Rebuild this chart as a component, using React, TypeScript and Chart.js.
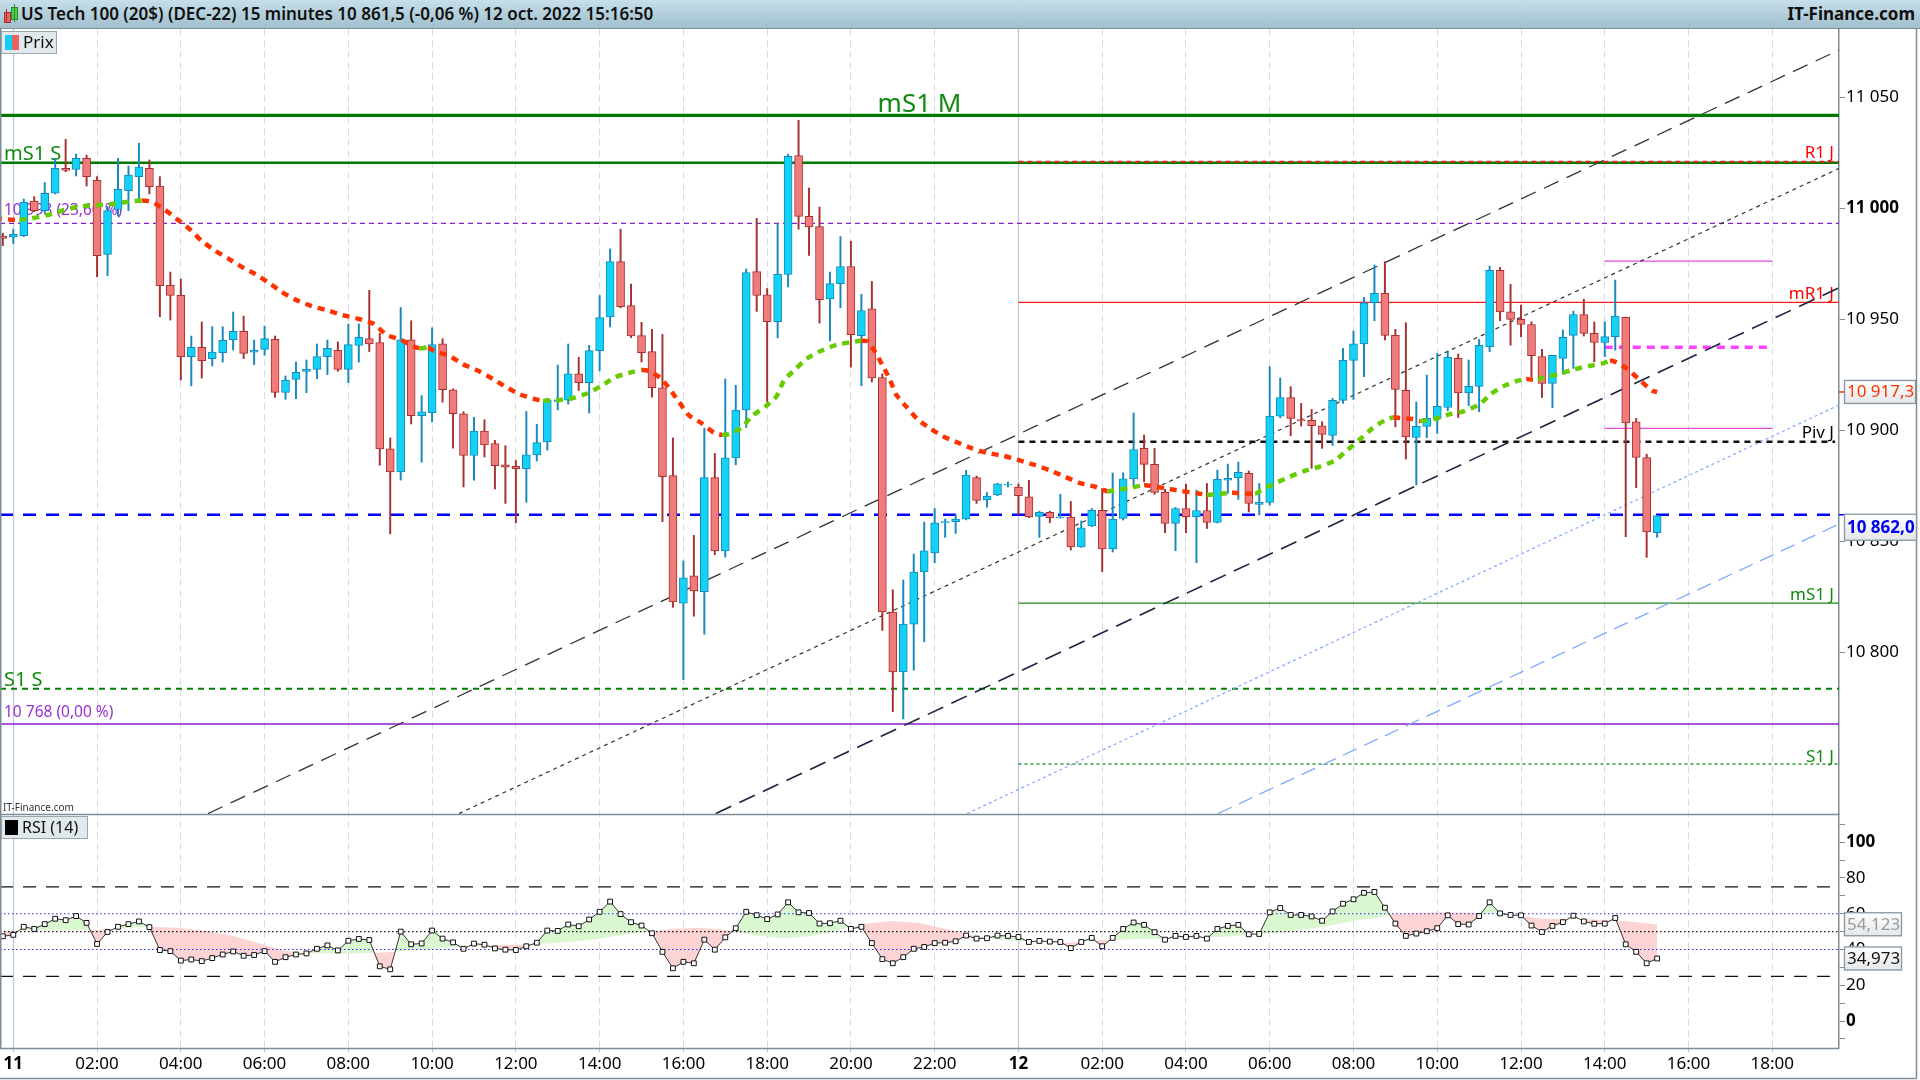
import React, { useEffect, useRef } from 'react';
import { Chart, registerables } from 'chart.js';
Chart.register(...registerables);

// ---------- DATA ----------
const TITLE = 'US Tech 100 (20$) (DEC-22) 15 minutes 10 861,5 (-0,06 %) 12 oct. 2022 15:16:50';
const SITE = 'IT-Finance.com';

// bar index 0 = 11 oct 00:00, one bar = 15 minutes
const FIRST_BAR = -1;
const OPEN = [
  10987.5, 10987.0, 10987.7, 11003.3, 10999.0, 11006.8, 11018.0, 11017.6, 11022.5, 11012.6, 10979.3,
  10999.5, 11008.0, 11014.3, 11018.0, 11010.1, 10965.3, 10960.8, 10933.2, 10937.4, 10932.3,
  10935.0, 10940.7, 10944.6, 10935.2, 10936.5, 10941.0, 10917.1, 10923.0, 10926.6, 10927.5,
  10933.2, 10936.1, 10927.5, 10938.3, 10941.3, 10939.6, 10891.7, 10881.3, 10940.8, 10906.6,
  10908.0, 10939.0, 10918.3, 10907.5, 10888.7, 10899.7, 10894.0, 10884.5, 10883.8, 10882.7,
  10889.0, 10894.8, 10913.1, 10913.6, 10925.5, 10921.5, 10935.9, 10951.1, 10976.0, 10956.2,
  10942.7, 10935.5, 10919.2, 10879.6, 10822.2, 10834.5, 10827.3, 10878.7, 10845.7, 10887.6,
  10909.2, 10971.5, 10961.1, 10949.0, 10970.3, 11023.8, 10996.4, 10991.8, 10959.2, 10966.1,
  10973.8, 10942.7, 10954.8, 10923.8, 10818.2, 10791.2, 10812.7, 10836.2, 10844.8, 10858.4,
  10858.9, 10860.1, 10878.7, 10868.7, 10871.0, 10875.4, 10874.5, 10870.1, 10861.2, 10863.1,
  10860.6, 10861.0, 10847.5, 10857.0, 10864.0, 10846.6, 10860.3, 10878.2, 10891.9, 10884.7,
  10872.1, 10858.1, 10864.8, 10861.1, 10863.9, 10858.5, 10877.6, 10878.7, 10880.6, 10866.7,
  10867.6, 10906.4, 10914.8, 10904.9, 10904.5, 10902.1, 10897.7, 10913.5, 10931.5, 10939.0,
  10957.5, 10961.7, 10942.8, 10918.0, 10896.8, 10901.8, 10905.4, 10910.3, 10932.4, 10916.9,
  10919.8, 10937.7, 10972.1, 10953.4, 10950.0, 10947.7, 10933.2, 10921.2, 10932.4, 10942.8,
  10952.2, 10943.7, 10939.6, 10942.2, 10950.9, 10903.9, 10887.8, 10853.9,
];
const HIGH = [
  10988.8, 10990.5, 11004.2, 11005.3, 11011.6, 11022.5, 11031.1, 11024.5, 11024.0, 11014.3, 11000.8,
  11022.5, 11019.1, 11029.3, 11021.8, 11014.3, 10971.3, 10968.2, 10942.5, 10948.8, 10946.7,
  10946.7, 10953.3, 10951.5, 10940.7, 10947.0, 10942.5, 10924.5, 10930.8, 10931.7, 10938.9,
  10940.7, 10939.8, 10947.9, 10947.9, 10963.1, 10943.8, 10896.6, 10955.3, 10949.4, 10915.7,
  10946.2, 10941.3, 10918.7, 10908.4, 10905.9, 10904.8, 10895.5, 10893.1, 10886.4, 10908.5,
  10902.7, 10914.5, 10929.4, 10938.9, 10932.9, 10938.3, 10960.8, 10981.7, 10990.6, 10965.9,
  10948.7, 10945.5, 10943.2, 10896.6, 10841.2, 10852.7, 10901.0, 10889.6, 10923.2, 10920.3,
  10972.7, 10995.5, 10963.9, 10993.2, 11024.4, 11039.7, 11009.2, 11000.6, 10971.3, 10987.3,
  10985.2, 10961.3, 10967.1, 10925.5, 10828.2, 10832.6, 10844.3, 10858.7, 10864.8, 10860.1,
  10862.2, 10882.0, 10879.4, 10872.0, 10876.2, 10876.8, 10875.9, 10877.5, 10863.6, 10863.6,
  10871.2, 10868.0, 10859.2, 10864.8, 10873.8, 10880.8, 10880.9, 10907.8, 10897.9, 10891.9,
  10873.4, 10865.3, 10875.8, 10873.1, 10876.1, 10882.1, 10884.8, 10885.7, 10881.7, 10876.1,
  10928.7, 10923.6, 10919.7, 10912.2, 10909.4, 10903.9, 10914.4, 10936.9, 10944.7, 10959.9,
  10974.5, 10976.0, 10945.5, 10948.5, 10912.8, 10924.9, 10934.7, 10935.7, 10934.4, 10931.7,
  10941.0, 10974.0, 10973.4, 10965.8, 10956.4, 10948.9, 10936.5, 10933.8, 10945.2, 10953.7,
  10959.1, 10948.8, 10948.9, 10967.7, 10951.0, 10905.4, 10889.3, 10861.7,
];
const LOW = [
  10983.2, 10984.2, 10987.3, 10998.5, 10997.8, 11006.5, 11016.5, 11014.6, 11010.1, 10969.2, 10969.7,
  10996.5, 10999.0, 11004.1, 11006.5, 10951.2, 10949.7, 10922.7, 10920.0, 10923.6, 10929.0,
  10930.8, 10936.2, 10932.3, 10929.6, 10933.8, 10914.9, 10914.0, 10914.3, 10917.0, 10923.3,
  10925.1, 10926.6, 10921.5, 10930.8, 10935.5, 10884.3, 10853.4, 10877.6, 10902.9, 10885.7,
  10903.8, 10912.7, 10892.0, 10874.5, 10877.6, 10888.0, 10873.6, 10867.1, 10858.3, 10867.6,
  10886.2, 10891.1, 10909.2, 10911.8, 10918.0, 10907.8, 10926.8, 10946.6, 10955.2, 10941.8,
  10930.8, 10915.0, 10858.9, 10820.3, 10787.7, 10816.3, 10808.2, 10844.0, 10842.9, 10884.5,
  10901.3, 10953.6, 10912.7, 10941.7, 10964.6, 10990.6, 10978.8, 10948.3, 10940.3, 10955.2,
  10928.5, 10920.1, 10921.8, 10809.9, 10773.3, 10770.0, 10792.0, 10804.8, 10840.4, 10851.8,
  10853.6, 10859.7, 10867.1, 10865.4, 10870.6, 10874.5, 10861.9, 10860.6, 10851.8, 10858.4,
  10860.4, 10846.1, 10847.3, 10856.6, 10836.4, 10845.2, 10859.6, 10874.3, 10876.9, 10871.2,
  10853.9, 10845.8, 10853.9, 10840.4, 10855.8, 10858.3, 10871.6, 10868.9, 10863.3, 10861.9,
  10866.4, 10905.7, 10897.6, 10901.9, 10882.9, 10891.9, 10893.2, 10912.2, 10913.9, 10924.2,
  10949.4, 10940.7, 10901.6, 10887.1, 10875.4, 10896.7, 10898.6, 10908.8, 10905.8, 10911.1,
  10908.4, 10935.4, 10949.4, 10938.4, 10942.2, 10924.2, 10914.8, 10910.2, 10925.4, 10927.9,
  10942.5, 10930.9, 10933.2, 10936.2, 10852.1, 10874.2, 10842.8, 10851.8,
];
const CLOSE = [
  10986.5, 10988.3, 11002.7, 10999.0, 11006.8, 11018.0, 11017.1, 11022.5, 11014.3, 10978.7, 10999.0,
  11008.6, 11015.0, 11018.6, 11009.8, 10965.2, 10960.8, 10933.2, 10937.4, 10931.4, 10935.3,
  10940.6, 10944.6, 10934.7, 10936.1, 10941.3, 10917.1, 10922.7, 10926.1, 10927.5, 10933.2,
  10937.0, 10927.5, 10938.7, 10941.9, 10939.0, 10891.7, 10881.3, 10940.8, 10906.6, 10908.4,
  10938.7, 10918.3, 10907.5, 10888.7, 10899.7, 10893.4, 10884.1, 10883.4, 10882.7, 10889.0,
  10894.5, 10913.8, 10913.8, 10925.5, 10921.5, 10935.9, 10950.8, 10976.0, 10955.7, 10942.5,
  10935.0, 10919.2, 10879.2, 10822.7, 10833.6, 10827.7, 10878.7, 10845.7, 10887.6, 10909.2,
  10971.1, 10960.8, 10949.0, 10970.3, 11023.4, 10996.4, 10991.7, 10958.9, 10966.1, 10973.8,
  10943.1, 10954.0, 10923.6, 10818.2, 10791.2, 10812.7, 10836.2, 10845.7, 10858.4, 10858.9,
  10860.1, 10879.9, 10868.4, 10870.4, 10875.9, 10875.7, 10870.6, 10861.0, 10863.1, 10860.6,
  10861.0, 10847.5, 10856.1, 10864.0, 10846.6, 10860.1, 10878.2, 10891.4, 10884.7, 10872.1,
  10858.1, 10864.8, 10861.1, 10863.9, 10858.5, 10877.9, 10878.4, 10881.1, 10867.1, 10867.6,
  10906.4, 10914.8, 10905.4, 10904.3, 10902.1, 10898.2, 10913.5, 10931.5, 10939.0, 10957.5,
  10961.7, 10942.8, 10918.5, 10897.1, 10901.8, 10905.4, 10910.8, 10932.9, 10916.9, 10919.8,
  10938.3, 10972.1, 10953.4, 10950.0, 10947.7, 10933.6, 10921.2, 10933.8, 10941.9, 10952.2,
  10943.7, 10939.6, 10942.3, 10951.5, 10903.4, 10887.8, 10854.3, 10861.6,
];

// moving average (bar position, price)
const MA_X = [
  -1.75, -0.5, 0.6, 1.75, 3.3, 4.9, 6.2, 7.8, 9.4, 11.0, 12.3, 13.2, 14.5, 15.8, 17.0, 18.0, 19.3, 20.5,
  21.8, 23.1, 24.4, 25.6, 26.9, 28.5, 30.1, 31.4, 33.0, 34.4, 35.7, 37.0, 38.2, 38.8, 39.6, 40.2, 41.7,
  42.9, 44.5, 45.8, 47.1, 48.4, 49.9, 50.6, 51.9, 53.4, 54.8, 56.2, 57.5, 58.8, 60.0, 60.7, 61.8, 62.6,
  63.6, 64.5, 65.7, 67.0, 67.7, 68.4, 69.5, 70.6, 71.9, 72.9, 73.6, 74.7, 75.8, 77.0, 78.6, 80.0, 81.0,
  81.6, 82.3, 83.0, 83.7, 84.3, 85.3, 86.4, 87.6, 88.8, 90.3, 91.5, 93.0, 94.6, 96.2, 97.6, 99.0, 100.5,
  101.9, 103.4, 104.5, 105.0, 106.7, 108.0, 108.6, 110.0, 111.4, 113.2, 114.0, 114.8, 115.6, 116.4,
  117.0, 118.6, 119.2, 120.5, 121.9, 123.3, 124.7, 126.2, 127.4, 128.6, 129.8, 131.0, 131.8, 132.4,
  133.6, 134.4, 134.8, 136.0, 137.2, 138.6, 140.1, 141.1, 142.3, 143.7, 144.5, 145.0, 145.6, 146.0,
  147.6, 149.1, 150.5, 151.8, 152.5, 152.9, 154.1, 155.4, 156.5, 157.0,
];
const MA_Y = [
  10995.6, 10995.0, 10994.8, 10995.5, 10997.0, 10999.3, 11000.8, 11001.4, 11002.0, 11003.0, 11003.6, 11003.0,
  10999.3, 10994.5, 10990.0, 10985.3, 10980.9, 10977.5, 10973.7, 10970.4, 10966.5, 10962.5, 10959.0, 10956.0,
  10953.9, 10952.0, 10950.2, 10948.0, 10942.9, 10940.8, 10937.8, 10937.0, 10937.3, 10935.8, 10933.4, 10929.9,
  10926.6, 10923.2, 10919.4, 10916.2, 10914.0, 10913.4, 10913.6, 10914.5, 10916.6, 10920.1, 10924.0, 10925.9,
  10927.2, 10926.8, 10923.6, 10919.2, 10912.7, 10906.9, 10903.4, 10898.7, 10898.0, 10898.4, 10901.0, 10906.6,
  10911.0, 10915.4, 10922.4, 10927.6, 10932.4, 10935.5, 10938.5, 10939.7, 10940.4, 10940.0, 10935.5, 10929.4,
  10923.2, 10916.2, 10910.6, 10904.8, 10900.8, 10897.3, 10894.3, 10892.0, 10889.9, 10888.5, 10886.4, 10884.3,
  10882.0, 10879.0, 10876.2, 10874.5, 10872.6, 10872.9, 10874.2, 10875.3, 10875.1, 10873.9, 10872.8, 10871.6,
  10871.0, 10871.2, 10871.6, 10871.9, 10871.8, 10871.5, 10873.1, 10876.1, 10879.1, 10881.7, 10883.6, 10886.3,
  10891.1, 10895.9, 10900.9, 10904.6, 10905.8, 10905.6, 10905.1, 10904.2, 10904.4, 10905.4, 10907.3, 10908.7,
  10911.9, 10916.3, 10919.9, 10922.4, 10923.1, 10922.9, 10922.8, 10923.6, 10925.4, 10927.5, 10929.0, 10930.2,
  10931.3, 10931.1, 10927.9, 10922.4, 10917.9, 10917.3,
];
const MA_LAST = 10917.3;
const LAST_PRICE = 10862.0;

// RSI (14), one value per bar from FIRST_BAR
const RSI = [
  47.4, 48.2, 52.7, 51.5, 54.2, 57.2, 56.4, 58.7, 54.9, 43.1, 49.8,
  52.7, 54.2, 55.7, 52.5, 39.7, 39.1, 33.8, 34.4, 33.5, 35.2,
  37.2, 38.9, 36.5, 36.9, 39.1, 33.1, 35.7, 37.2, 37.8, 40.4,
  42.3, 39.5, 44.9, 45.9, 45.3, 30.6, 28.9, 50.0, 42.9, 43.4,
  50.6, 46.1, 44.0, 40.4, 43.3, 42.7, 40.6, 39.9, 39.7, 41.8,
  43.8, 50.6, 50.4, 54.0, 53.0, 56.8, 61.1, 66.8, 59.8, 55.3,
  53.4, 49.1, 38.7, 29.5, 33.1, 32.3, 45.5, 39.9, 46.8, 51.9,
  61.1, 59.2, 57.0, 59.6, 66.4, 60.8, 60.4, 54.5, 54.7, 56.1,
  51.5, 52.7, 43.6, 34.6, 32.3, 35.7, 40.4, 41.4, 43.6, 43.8,
  44.6, 47.8, 46.1, 46.3, 47.8, 47.6, 47.0, 44.2, 44.8, 44.4,
  44.2, 40.8, 44.2, 46.5, 41.8, 46.5, 51.5, 55.1, 53.8, 49.7,
  45.5, 47.6, 47.0, 47.6, 46.1, 51.5, 53.2, 53.8, 48.5, 48.7,
  60.8, 63.2, 59.3, 59.3, 58.5, 56.1, 61.3, 65.6, 68.1, 71.7,
  72.2, 63.4, 54.5, 47.6, 48.9, 50.2, 51.9, 59.1, 54.2, 54.0,
  58.7, 66.4, 60.2, 59.3, 59.1, 53.4, 49.8, 53.2, 55.3, 58.9,
  55.7, 54.4, 54.5, 57.6, 42.9, 38.7, 32.3, 34.97,
];
// RSI signal line
const SIG_X = [
  -1.7, 4, 8, 13, 15.4, 18, 20.6, 23.2, 25.8, 27.9, 32, 35.6, 38.8, 42.4, 46, 50.2, 52.8, 55.4, 58, 60.5,
  63.1, 65.7, 68.3, 70.9, 73.5, 76.1, 78.5, 80, 81.3, 83.9, 86.5, 89.1, 91.7, 94.3, 96.9, 100.5, 104.2,
  107.8, 112, 115.1, 118.2, 120.3, 122.9, 125.4, 128, 130.6, 131.7, 135.8, 138.4, 141, 144.1, 146.2,
  148.8, 151.4, 154, 157,
];
const SIG_Y = [
  50.4, 50.8, 51.0, 52.7, 52.3, 50.8, 48.3, 44.0, 39.5, 38.0, 37.6, 38.4, 39.9, 41.4, 42.5, 42.9, 44.0,
  45.5, 48.0, 50.0, 51.7, 52.1, 50.8, 47.8, 46.3, 47.4, 50.5, 52.5, 54.4, 55.9, 54.9, 51.5, 47.8, 45.5,
  44.2, 43.6, 45.5, 45.9, 46.5, 47.0, 48.1, 49.3, 50.8, 53.0, 55.9, 58.1, 60.0, 60.9, 60.9, 60.2, 58.7,
  57.2, 57.2, 56.8, 55.9, 54.1,
];
const RSI_LAST = 34.973;
const SIG_LAST = 54.123;
const RSI_LEVELS = [75, 60, 50, 40, 25];

// axes
const X_MIN = -1.27;
const X_MAX = 174.37;
const PRICE_MIN = 10727.2;
const PRICE_MAX = 11080.8;
const RSI_MIN = -15.1;
const RSI_MAX = 115.8;
const PRICE_TICKS = [10800, 10850, 10900, 10950, 11000, 11050];
const PRICE_BOLD = [11000];
const RSI_TICKS = [-10, 0, 10, 20, 30, 40, 50, 60, 70, 80, 90, 100, 110];
const RSI_LABELLED = [0, 20, 40, 60, 80, 100];
const RSI_BOLD = [0, 100];
const TIME_TICKS = [0, 8, 16, 24, 32, 40, 48, 56, 64, 72, 80, 88, 96, 104, 112, 120, 128, 136, 144, 152, 160, 168];
const TIME_LABELS = ['11', '02:00', '04:00', '06:00', '08:00', '10:00', '12:00', '14:00', '16:00', '18:00', '20:00', '22:00',
  '12', '02:00', '04:00', '06:00', '08:00', '10:00', '12:00', '14:00', '16:00', '18:00'];
const DAY_STARTS = [0, 96];

// horizontal levels
const LEVEL_KEYS = ['mS1M', 'R1J', 'mS1S', 'fib236', 'mR1J', 'pinkTop', 'pinkDash', 'PivJ', 'pinkLow', 'last', 'mS1J', 'S1S', 'fib0', 'S1J'];
const LEVEL_LABELS = ['mS1 M', 'R1 J', 'mS1 S', '10 993 (23,60 %)', 'mR1 J', '', '', 'Piv J', '', '', 'mS1 J', 'S1 S', '10 768 (0,00 %)', 'S1 J'];
const LEVEL_VALUES = [11041.9, 11021.0, 11020.5, 10993.2, 10957.7, 10976.2, 10937.4, 10894.9, 10900.9, 10862.0, 10822.2, 10783.6, 10767.7, 10749.7];
const LEVEL_FROM = [X_MIN, 96, X_MIN, X_MIN, 96, 152, 152, 96, 152, X_MIN, 96, X_MIN, X_MIN, 96];
const LEVEL_TO = [X_MAX, X_MAX, X_MAX, X_MAX, X_MAX, 168, 167.5, 174, 168, X_MAX, X_MAX, X_MAX, X_MAX, X_MAX];

// regression channel lines
const TREND_X0 = [18.6, 42.57, 67.1, 91.09, 115.06];
const TREND_Y0 = [10727.4, 10727.4, 10727.4, 10727.4, 10727.4];
const TREND_X1 = [174.37, 174.37, 174.37, 174.37, 174.37];
const TREND_Y1 = [11071.3, 11018.0, 10964.2, 10911.4, 10857.8];

// ---------- STYLES ----------
const FONT = 'Noto Sans';
const LEVEL_STYLE: any = {
  mS1M: { color: '#007a00', width: 3.2, dash: [] },
  R1J: { color: '#e02020', width: 1.8, dash: [5, 4] },
  mS1S: { color: '#007a00', width: 2.5, dash: [] },
  fib236: { color: '#8a1ecf', width: 1.3, dash: [5, 4] },
  mR1J: { color: '#ff1a1a', width: 1.3, dash: [] },
  pinkTop: { color: '#e34be3', width: 1.3, dash: [] },
  pinkDash: { color: '#ff40ff', width: 3.5, dash: [8, 6] },
  PivJ: { color: '#111111', width: 2.5, dash: [6, 5] },
  pinkLow: { color: '#e34be3', width: 1.3, dash: [] },
  last: { color: '#0000ff', width: 2.5, dash: [13, 10] },
  mS1J: { color: '#1f8a1f', width: 1.3, dash: [] },
  S1S: { color: '#008000', width: 2, dash: [6, 5] },
  fib0: { color: '#8a1ecf', width: 1.5, dash: [] },
  S1J: { color: '#008000', width: 1.2, dash: [3, 3] },
};
const LABEL_STYLE: any = {
  mS1M: { align: 'center', size: 26, color: '#108a10', gap: 3 },
  R1J: { align: 'right', size: 17, color: '#ff0000', gap: 3.5 },
  mS1S: { align: 'left', size: 20, color: '#108a10', gap: 3 },
  fib236: { align: 'left', size: 15.5, color: '#9a30d0', gap: 8 },
  mR1J: { align: 'right', size: 17, color: '#ff0000', gap: 3 },
  PivJ: { align: 'right', size: 17, color: '#000000', gap: 3.5 },
  mS1J: { align: 'right', size: 17, color: '#108a10', gap: 3 },
  S1S: { align: 'left', size: 20, color: '#108a10', gap: 3 },
  fib0: { align: 'left', size: 15.5, color: '#9a30d0', gap: 7 },
  S1J: { align: 'right', size: 17, color: '#108a10', gap: 2.5 },
};
const TREND_STYLE = [
  { color: '#333333', width: 1.3, dash: [16, 9] },
  { color: '#333333', width: 1.2, dash: [4, 4] },
  { color: '#1c2340', width: 1.6, dash: [17, 9] },
  { color: '#7fa8ff', width: 1.2, dash: [3, 3] },
  { color: '#7fa8ff', width: 1.3, dash: [15, 8] },
];
const RSI_LEVEL_STYLE: any = {
  75: { color: '#111111', width: 1.3, dash: [13, 10] },
  60: { color: '#2a2aff', width: 1.2, dash: [1.5, 2.5] },
  50: { color: '#111111', width: 1.2, dash: [1.5, 2.5] },
  40: { color: '#2a2aff', width: 1.2, dash: [1.5, 2.5] },
  25: { color: '#111111', width: 1.3, dash: [13, 10] },
};
const UP_FILL = '#14d2f6';
const UP_LINE = '#1589bd';
const DOWN_FILL = '#ef7b7b';
const DOWN_LINE = '#a5302f';
const AXIS_COLOR = '#7d8d98';

function fmtFr(v: number, d: number) {
  const s = v.toFixed(d);
  const [i, f] = s.split('.');
  const is = i.replace(/\B(?=(\d{3})+(?!\d))/g, ' ');
  return f ? is + ',' + f : is;
}

function drawBox(ctx: any, x: number, y: number, w: number, h: number, text: string, color: string, bold: boolean) {
  const g = ctx.createLinearGradient(0, y, 0, y + h);
  g.addColorStop(0, '#ffffff');
  g.addColorStop(1, '#e4e6e8');
  ctx.fillStyle = g;
  ctx.fillRect(x, y, w, h);
  ctx.strokeStyle = '#8796a0';
  ctx.lineWidth = 1.3;
  ctx.setLineDash([]);
  ctx.strokeRect(x + 0.5, y + 0.5, w - 1, h - 1);
  ctx.fillStyle = color;
  ctx.font = `${bold ? 'bold ' : ''}17px "${FONT}"`;
  ctx.textAlign = 'left';
  ctx.textBaseline = 'middle';
  ctx.fillText(text, x + 3, y + h / 2 + 0.5);
}

const overlayPlugin = {
  id: 'overlay',
  beforeDatasetsDraw(chart: any) {
    const { ctx, chartArea: a, scales } = chart;
    const x = scales.x;
    const y = scales.y;
    ctx.save();
    // day separators
    ctx.strokeStyle = '#c3c8d6';
    ctx.lineWidth = 1.3;
    DAY_STARTS.forEach((d) => {
      const px = Math.round(x.getPixelForValue(d)) + 0.5;
      ctx.beginPath();
      ctx.moveTo(px, a.top);
      ctx.lineTo(px, a.bottom + 3);
      ctx.stroke();
    });
    // level labels
    LEVEL_KEYS.forEach((k, i) => {
      const text = LEVEL_LABELS[i];
      const st = LABEL_STYLE[k];
      if (!text || !st) return;
      const py = y.getPixelForValue(LEVEL_VALUES[i]);
      ctx.font = `${st.size}px "${FONT}"`;
      ctx.fillStyle = st.color;
      ctx.textBaseline = 'alphabetic';
      let px = a.left + 4;
      if (st.align === 'center') { ctx.textAlign = 'center'; px = (a.left + x.right) / 2; }
      else if (st.align === 'right') { ctx.textAlign = 'right'; px = x.right - 5; }
      else { ctx.textAlign = 'left'; }
      ctx.fillText(text, px, py - st.gap);
    });
    ctx.restore();
  },
  afterDraw(chart: any) {
    const { ctx, chartArea: a, scales, width, height } = chart;
    const y = scales.y;
    const yr = scales.yRsi;
    ctx.save();
    ctx.setLineDash([]);
    // pane separator & frame
    ctx.strokeStyle = AXIS_COLOR;
    ctx.lineWidth = 1.5;
    ctx.beginPath();
    ctx.moveTo(0, yr.top + 0.5); ctx.lineTo(a.right, yr.top + 0.5);
    ctx.moveTo(0, a.bottom + 0.5); ctx.lineTo(a.right, a.bottom + 0.5);
    ctx.moveTo(0.75, a.top); ctx.lineTo(0.75, a.bottom);
    ctx.moveTo(width - 3.5, 0); ctx.lineTo(width - 3.5, height - 1.5);
    ctx.moveTo(0, height - 1.5); ctx.lineTo(width - 3.5, height - 1.5);
    ctx.stroke();

    // value boxes on the axes
    const bx = a.right + 5;
    const maY = y.getPixelForValue(MA_LAST);
    const lastY = y.getPixelForValue(LAST_PRICE);
    ctx.lineWidth = 1.5;
    ctx.strokeStyle = '#ff3300';
    ctx.beginPath(); ctx.moveTo(a.right, maY); ctx.lineTo(a.right + 6, maY); ctx.stroke();
    ctx.strokeStyle = '#0000ff';
    ctx.beginPath(); ctx.moveTo(a.right, lastY); ctx.lineTo(a.right + 6, lastY); ctx.stroke();
    drawBox(ctx, bx, maY - 12, 72, 24, fmtFr(MA_LAST, 1), '#ff3300', false);
    drawBox(ctx, bx, lastY - 1, 73, 27, fmtFr(LAST_PRICE, 1), '#0000ee', true);
    drawBox(ctx, bx, yr.getPixelForValue(SIG_LAST) - 12, 58, 24, fmtFr(SIG_LAST, 3), '#9a9a9a', false);
    drawBox(ctx, bx, yr.getPixelForValue(RSI_LAST) - 12, 58, 24, fmtFr(RSI_LAST, 3), '#111111', false);

    // legend "Prix"
    ctx.fillStyle = '#e2e9ed';
    ctx.fillRect(1, a.top + 2, 56, 23);
    ctx.strokeStyle = '#9aa6ae';
    ctx.lineWidth = 1;
    ctx.strokeRect(1.5, a.top + 2.5, 55, 22);
    ctx.fillStyle = '#12d0f5';
    ctx.fillRect(5, a.top + 6, 7, 15);
    ctx.fillStyle = '#e86464';
    ctx.fillRect(12, a.top + 6, 7, 15);
    ctx.fillStyle = '#111';
    ctx.font = `17px "${FONT}"`;
    ctx.textAlign = 'left';
    ctx.textBaseline = 'middle';
    ctx.fillText('Prix', 23, a.top + 14);

    // legend "RSI (14)"
    const rt = yr.top;
    ctx.fillStyle = '#e2e9ed';
    ctx.fillRect(1, rt + 2, 87, 23);
    ctx.strokeStyle = '#9aa6ae';
    ctx.strokeRect(1.5, rt + 2.5, 86, 22);
    ctx.fillStyle = '#000';
    ctx.fillRect(5, rt + 6, 13, 15);
    ctx.fillStyle = '#111';
    ctx.font = `16px "${FONT}"`;
    ctx.fillText('RSI (14)', 22, rt + 14);

    // small site tag
    ctx.font = `10px "${FONT}"`;
    ctx.fillStyle = '#333';
    ctx.textBaseline = 'alphabetic';
    ctx.fillText(SITE, 3, rt - 3);
    ctx.restore();
  },
};

function buildConfig() {
  const n = OPEN.length;
  const bars = OPEN.map((o, k) => ({ x: FIRST_BAR + k, y: [o, CLOSE[k]] }));
  const wicks = OPEN.map((o, k) => ({ x: FIRST_BAR + k, y: [LOW[k], HIGH[k]] }));
  const isUp = (k: number) => CLOSE[k] >= OPEN[k];
  const datasets: any[] = [];

  datasets.push({
    type: 'line', label: 'MA', yAxisID: 'y', order: 0,
    data: MA_X.map((x, k) => ({ x, y: MA_Y[k] })),
    borderWidth: 4.5, borderDash: [7, 6], borderCapStyle: 'butt', pointRadius: 0, tension: 0.2,
    borderColor: '#ff3300',
    segment: { borderColor: (c: any) => (c.p1.parsed.y >= c.p0.parsed.y ? '#66cc00' : '#ff3300') },
  });
  datasets.push({
    type: 'bar', label: 'body', yAxisID: 'y', order: 1, grouped: false,
    data: bars, barThickness: 8, borderWidth: 1, borderSkipped: false,
    backgroundColor: (c: any) => (c.dataIndex < n && isUp(c.dataIndex) ? UP_FILL : DOWN_FILL),
    borderColor: (c: any) => (c.dataIndex < n && isUp(c.dataIndex) ? UP_LINE : DOWN_LINE),
  });
  datasets.push({
    type: 'bar', label: 'wick', yAxisID: 'y', order: 2, grouped: false,
    data: wicks, barThickness: 1.3, borderWidth: 0,
    backgroundColor: (c: any) => (c.dataIndex < n && isUp(c.dataIndex) ? UP_LINE : DOWN_LINE),
  });
  TREND_X0.forEach((x0, k) => {
    const st = TREND_STYLE[k];
    datasets.push({
      type: 'line', label: 'trend' + k, yAxisID: 'y', order: 3,
      data: [{ x: x0, y: TREND_Y0[k] }, { x: TREND_X1[k], y: TREND_Y1[k] }],
      borderColor: st.color, borderWidth: st.width, borderDash: st.dash, pointRadius: 0,
    });
  });
  LEVEL_KEYS.forEach((key, k) => {
    const st = LEVEL_STYLE[key];
    datasets.push({
      type: 'line', label: key, yAxisID: 'y', order: 4,
      data: [{ x: LEVEL_FROM[k], y: LEVEL_VALUES[k] }, { x: LEVEL_TO[k], y: LEVEL_VALUES[k] }],
      borderColor: st.color, borderWidth: st.width, borderDash: st.dash, pointRadius: 0,
    });
  });
  const sigIndex = datasets.length + 1;
  datasets.push({
    type: 'line', label: 'RSI', yAxisID: 'yRsi', order: 0,
    data: RSI.map((v, k) => ({ x: FIRST_BAR + k, y: v })),
    borderColor: '#333333', borderWidth: 1,
    pointStyle: 'rect', pointRadius: 3.4, pointBackgroundColor: '#ffffff', pointBorderColor: '#111111', pointBorderWidth: 1,
    fill: { target: sigIndex, above: '#d9f8d0', below: '#fdd3d3' },
  });
  datasets.push({
    type: 'line', label: 'signal', yAxisID: 'yRsi', order: 1,
    data: SIG_X.map((x, k) => ({ x, y: SIG_Y[k] })),
    borderWidth: 0, borderColor: 'rgba(0,0,0,0)', pointRadius: 0, fill: false,
  });
  RSI_LEVELS.forEach((v) => {
    const st = RSI_LEVEL_STYLE[v];
    datasets.push({
      type: 'line', label: 'rsi' + v, yAxisID: 'yRsi', order: 2,
      data: [{ x: X_MIN, y: v }, { x: X_MAX, y: v }],
      borderColor: st.color, borderWidth: st.width, borderDash: st.dash, pointRadius: 0,
    });
  });

  const tickFont = (bold: boolean) => ({ family: FONT, size: 17, weight: bold ? 'bold' : 'normal' });

  return {
    type: 'bar',
    data: { datasets },
    plugins: [overlayPlugin],
    options: {
      animation: false,
      responsive: true,
      maintainAspectRatio: false,
      devicePixelRatio: 1,
      events: [],
      layout: { padding: 0, autoPadding: false },
      plugins: {
        legend: { display: false },
        tooltip: { enabled: false },
        filler: { drawTime: 'beforeDatasetsDraw' },
      },
      scales: {
        x: {
          type: 'linear', min: X_MIN, max: X_MAX, offset: false,
          afterFit: (s: any) => { s.height = 32; s.paddingLeft = 0; s.paddingRight = 0; },
          afterBuildTicks: (s: any) => { s.ticks = TIME_TICKS.map((v) => ({ value: v })); },
          ticks: {
            autoSkip: false, maxRotation: 0, padding: 2, color: '#000',
            callback: (_v: any, i: number) => TIME_LABELS[i],
            font: (c: any) => tickFont(DAY_STARTS.includes(c.tick && c.tick.value)),
          },
          grid: {
            offset: false, lineWidth: 1, tickLength: 4, tickColor: '#b8bec6',
            color: (c: any) => (c.tick && DAY_STARTS.includes(c.tick.value) ? 'rgba(0,0,0,0)' : '#d9dde3'),
          },
          border: { display: false, dash: [7, 4] },
        },
        y: {
          type: 'linear', position: 'right', stack: 'panes', stackWeight: 785,
          min: PRICE_MIN, max: PRICE_MAX,
          afterFit: (s: any) => { s.width = 81; s.paddingTop = 0; s.paddingBottom = 0; },
          afterBuildTicks: (s: any) => { s.ticks = PRICE_TICKS.map((v) => ({ value: v })); },
          ticks: {
            autoSkip: false, padding: 1, color: '#000',
            callback: (v: any) => fmtFr(v, 0),
            font: (c: any) => tickFont(PRICE_BOLD.includes(c.tick && c.tick.value)),
          },
          grid: { drawOnChartArea: false, tickLength: 6, tickColor: AXIS_COLOR },
          border: { color: AXIS_COLOR, width: 1.5 },
        },
        yRsi: {
          type: 'linear', position: 'right', stack: 'panes', stackWeight: 234,
          min: RSI_MIN, max: RSI_MAX,
          afterFit: (s: any) => { s.width = 81; s.paddingTop = 0; s.paddingBottom = 0; },
          afterBuildTicks: (s: any) => { s.ticks = RSI_TICKS.map((v) => ({ value: v })); },
          ticks: {
            autoSkip: false, padding: 1, color: '#000',
            callback: (v: any) => (RSI_LABELLED.includes(v) ? String(v) : ''),
            font: (c: any) => tickFont(RSI_BOLD.includes(c.tick && c.tick.value)),
          },
          grid: { drawOnChartArea: false, tickLength: 6, tickColor: AXIS_COLOR },
          border: { color: AXIS_COLOR, width: 1.5 },
        },
      },
    },
  };
}

export default function App() {
  const ref = useRef<HTMLCanvasElement>(null);
  useEffect(() => {
    document.body.style.margin = '0';
    const chart = new Chart(ref.current as HTMLCanvasElement, buildConfig() as any);
    return () => chart.destroy();
  }, []);
  return (
    <div style={{ position: 'fixed', left: 0, top: 0, width: 1920, height: 1080, background: '#fff', overflow: 'hidden', fontFamily: FONT }}>
      <div style={{ position: 'absolute', left: 0, top: 0, width: 1920, height: 28, borderBottom: '1px solid #7d919c', background: 'linear-gradient(#c6dfea, #a1bfcd)' }}>
        <div style={{ position: 'absolute', left: 4, top: 12, width: 5, height: 9, background: '#e86464', border: '1px solid #a5302f' }} />
        <div style={{ position: 'absolute', left: 6, top: 9, width: 1, height: 14, background: '#a5302f' }} />
        <div style={{ position: 'absolute', left: 11, top: 7, width: 5, height: 11, background: '#4ad04a', border: '1px solid #2a8a2a' }} />
        <div style={{ position: 'absolute', left: 13.5, top: 4, width: 1, height: 18, background: '#2a8a2a' }} />
        <div style={{ position: 'absolute', left: 21, top: 0, lineHeight: '28px', fontSize: 17, fontWeight: 600, color: '#101010', whiteSpace: 'nowrap' }}>{TITLE}</div>
        <div style={{ position: 'absolute', right: 5, top: 0, lineHeight: '28px', fontSize: 17, fontWeight: 700, color: '#101010' }}>{SITE}</div>
      </div>
      <div style={{ position: 'absolute', left: 0, top: 29, width: 1920, height: 1051 }}>
        <canvas ref={ref} />
      </div>
    </div>
  );
}
